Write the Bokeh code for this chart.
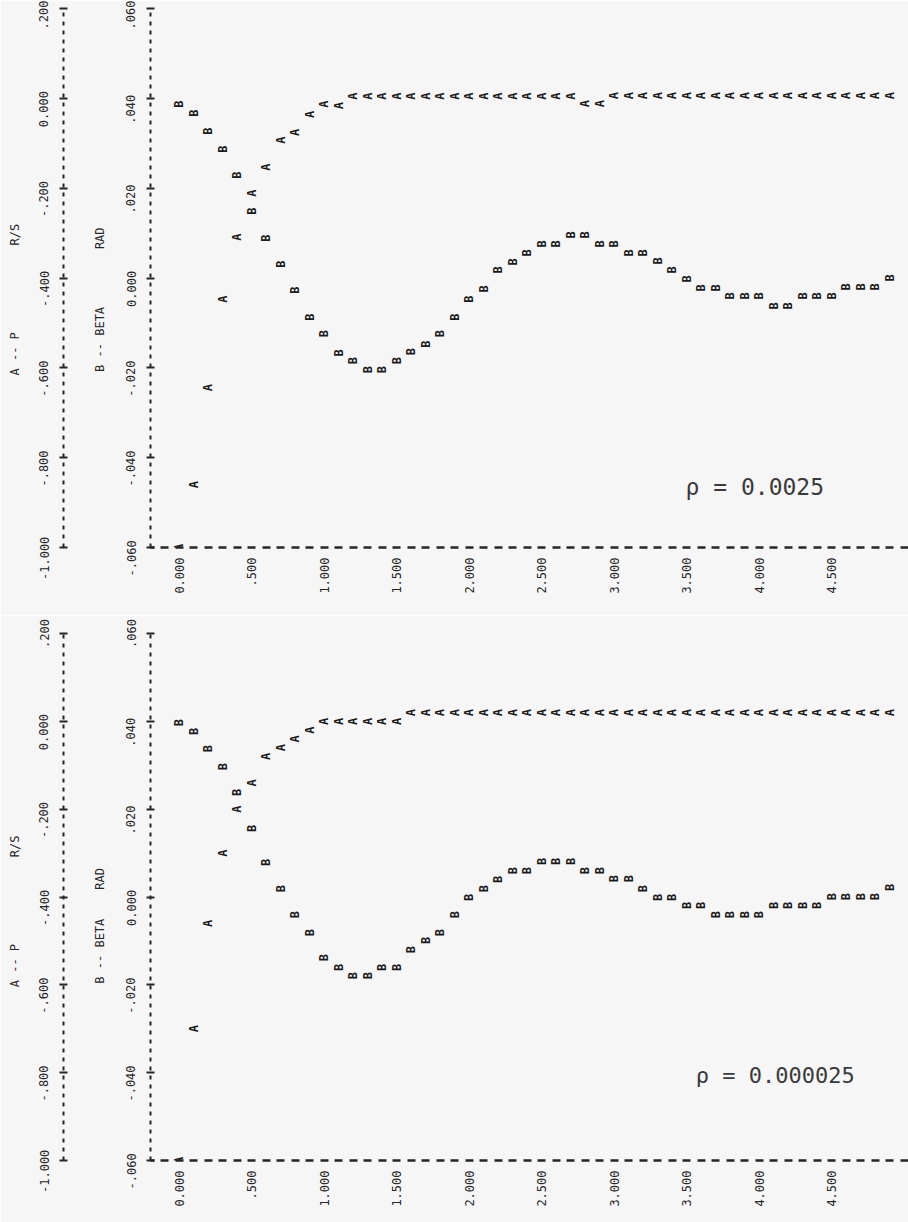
import math
from bokeh.plotting import figure
from bokeh.models import Range1d, LinearAxis, FixedTicker, Label, ColumnDataSource
from bokeh.layouts import column
from bokeh.embed import file_html
from bokeh.resources import INLINE
from bokeh.core.properties import value

# ---------------- data ----------------
TIME = [0.0, 0.1, 0.2, 0.3, 0.4, 0.5, 0.6, 0.7, 0.8, 0.9,
        1.0, 1.1, 1.2, 1.3, 1.4, 1.5, 1.6, 1.7, 1.8, 1.9,
        2.0, 2.1, 2.2, 2.3, 2.4, 2.5, 2.6, 2.7, 2.8, 2.9,
        3.0, 3.1, 3.2, 3.3, 3.4, 3.5, 3.6, 3.7, 3.8, 3.9,
        4.0, 4.1, 4.2, 4.3, 4.4, 4.5, 4.6, 4.7, 4.8, 4.9]

# panel 1 : rho = 0.0025
TOP_P = [-1.0, -0.86, -0.644, -0.447, -0.309, -0.211, -0.153, -0.093, -0.076, -0.036,
         -0.013, -0.016, 0.005, 0.005, 0.005, 0.005, 0.005, 0.005, 0.005, 0.005,
         0.005, 0.005, 0.005, 0.005, 0.005, 0.005, 0.005, 0.005, -0.012, -0.012,
         0.006, 0.006, 0.006, 0.006, 0.006, 0.006, 0.006, 0.006, 0.006, 0.006,
         0.006, 0.006, 0.006, 0.006, 0.006, 0.006, 0.006, 0.006, 0.006, 0.006]
TOP_BETA = [0.0387, 0.0367, 0.0327, 0.0287, 0.0229, 0.0149, 0.0089, 0.0031, -0.0027, -0.0087,
            -0.0124, -0.0167, -0.0184, -0.0204, -0.0204, -0.0184, -0.0164, -0.0147, -0.0124, -0.0087,
            -0.0047, -0.0024, 0.0018, 0.0036, 0.0056, 0.0076, 0.0076, 0.0096, 0.0096, 0.0076,
            0.0076, 0.0056, 0.0056, 0.0038, 0.0018, -0.0002, -0.0022, -0.0022, -0.0040, -0.0040,
            -0.0040, -0.0062, -0.0062, -0.0040, -0.0040, -0.0040, -0.0020, -0.0020, -0.0020, 0.0000]

# panel 2 : rho = 0.000025
BOT_P = [-1.0, -0.70, -0.46, -0.30, -0.20, -0.14, -0.08, -0.06, -0.04, -0.02,
         0.0, 0.0, 0.0, 0.0, 0.0, 0.0, 0.02, 0.02, 0.02, 0.02,
         0.02, 0.02, 0.02, 0.02, 0.02, 0.02, 0.02, 0.02, 0.02, 0.02,
         0.02, 0.02, 0.02, 0.02, 0.02, 0.02, 0.02, 0.02, 0.02, 0.02,
         0.02, 0.02, 0.02, 0.02, 0.02, 0.02, 0.02, 0.02, 0.02, 0.02]
BOT_BETA = [0.0397, 0.0377, 0.0338, 0.0297, 0.0238, 0.0156, 0.0079, 0.0019, -0.0040, -0.0081,
            -0.0138, -0.0160, -0.0179, -0.0179, -0.0160, -0.0160, -0.0120, -0.0099, -0.0081, -0.0040,
            -0.0001, 0.0019, 0.0040, 0.0060, 0.0060, 0.0081, 0.0081, 0.0081, 0.0060, 0.0060,
            0.0042, 0.0042, 0.0019, -0.0001, -0.0001, -0.0019, -0.0019, -0.0040, -0.0040, -0.0040,
            -0.0040, -0.0019, -0.0019, -0.0019, -0.0019, 0.0001, 0.0001, 0.0001, 0.0001, 0.0022]

TIME_TICKS = [0.0, 0.5, 1.0, 1.5, 2.0, 2.5, 3.0, 3.5, 4.0, 4.5]
TIME_LABELS = ["0.000", ".500", "1.000", "1.500", "2.000", "2.500", "3.000", "3.500", "4.000", "4.500"]
P_TICKS = [-1.0, -0.8, -0.6, -0.4, -0.2, 0.0, 0.2]
P_LABELS = ["-1.000", "-.800", "-.600", "-.400", "-.200", "0.000", ".200"]
BETA_TICKS = [-0.06, -0.04, -0.02, 0.0, 0.02, 0.04, 0.06]
BETA_LABELS = ["-.060", "-.040", "-.020", "0.000", ".020", ".040", ".060"]
P_TITLE = ("A -- P", "R/S")
BETA_TITLE = ("B -- BETA", "RAD")
RHO_TEXTS = ["\u03c1 = 0.0025", "\u03c1 = 0.000025"]

# ---------------- styling ----------------
INK = "#262626"
PAPER = "#f6f6f6"
MONO = "DejaVu Sans Mono"
NB = "\u00a0"
ZW = "\u200b"


def shifted(ticks, labels):
    # printer labels sit a little below their tick mark (top one is kept
    # inside the frame by Bokeh anyway)
    out = {}
    for i, (t, l) in enumerate(zip(ticks, labels)):
        if i == len(ticks) - 1:
            out[t] = l
        else:
            out[t] = l + NB * 3 + ZW
    return out


def style_ruler(ax, ticks, labels, label_standoff, title, title_standoff):
    ax.ticker = FixedTicker(ticks=ticks)
    ax.major_label_overrides = shifted(ticks, labels)
    ax.major_label_orientation = "vertical"
    ax.major_label_text_font = MONO
    ax.major_label_text_font_size = "12px"
    ax.major_label_text_color = INK
    ax.major_label_standoff = label_standoff
    ax.axis_line_color = INK
    ax.axis_line_width = 2
    ax.axis_line_dash = "4 5"
    ax.major_tick_in = 4
    ax.major_tick_out = 4
    ax.major_tick_line_width = 2
    ax.major_tick_line_color = INK
    ax.minor_tick_line_color = None
    ax.minor_tick_out = 0
    ax.minor_tick_in = 0
    ax.axis_label = title
    ax.axis_label_standoff = title_standoff
    ax.axis_label_text_font = MONO
    ax.axis_label_text_font_size = "12px"
    ax.axis_label_text_font_style = "normal"
    ax.axis_label_text_color = INK


def make_panel(p_vals, beta_vals, rho_text, height, border_top, border_bottom,
               title_gap_p, title_tail_p, title_gap_b, title_tail_b,
               rho_x, rho_y, rho_size):
    p = figure(width=908, height=height,
               x_range=Range1d(-0.2, 5.0276), y_range=Range1d(-0.06, 0.06),
               output_backend="svg", toolbar_location=None,
               min_border_left=150, min_border_right=0,
               min_border_top=border_top, min_border_bottom=border_bottom,
               background_fill_color=PAPER, border_fill_color=PAPER,
               outline_line_color=None)
    p.title.visible = False
    p.extra_y_ranges = {"a": Range1d(-1.0, 0.2)}
    p.grid.visible = False

    # B -- BETA axis (innermost, default y range)
    axb = p.yaxis[0]
    style_ruler(axb, BETA_TICKS, BETA_LABELS, 8,
                BETA_TITLE[0] + NB * title_gap_b + BETA_TITLE[1] + NB * title_tail_b, 15)

    # blank spacer between the two rulers: one paper-coloured minor tick
    # reserves the room, no labels
    spacer = LinearAxis(y_range_name="a",
                        ticker=FixedTicker(ticks=[], minor_ticks=[-0.4]),
                        axis_line_color=None, major_tick_line_color=None,
                        minor_tick_line_color=PAPER, major_tick_in=0,
                        major_tick_out=0, minor_tick_in=0, minor_tick_out=26,
                        major_label_standoff=0)
    p.add_layout(spacer, "left")

    # A -- P axis (outer)
    axa = LinearAxis(y_range_name="a")
    style_ruler(axa, P_TICKS, P_LABELS, 8,
                P_TITLE[0] + NB * title_gap_p + P_TITLE[1] + NB * title_tail_p, 13)
    p.add_layout(axa, "left")

    # time axis
    axt = p.xaxis[0]
    axt.ticker = FixedTicker(ticks=TIME_TICKS)
    axt.major_label_overrides = dict(zip(TIME_TICKS, TIME_LABELS))
    axt.major_label_orientation = math.pi / 2
    axt.major_label_text_font = MONO
    axt.major_label_text_font_size = "12px"
    axt.major_label_text_color = INK
    axt.major_label_standoff = 10
    axt.major_tick_in = 0
    axt.major_tick_out = 0
    axt.major_tick_line_color = None
    axt.minor_tick_line_color = None
    axt.minor_tick_in = 0
    axt.minor_tick_out = 0
    axt.axis_line_color = INK
    axt.axis_line_width = 2.5
    axt.axis_line_dash = "8 6 8 7"
    axt.axis_line_dash_offset = 4

    src = ColumnDataSource(dict(t=TIME, pv=p_vals, bv=beta_vals))
    p.text(x="t", y="bv", text=value("B"), source=src, angle=math.pi / 2,
           text_align="center", text_baseline="middle",
           text_font=value(MONO), text_font_size="12px", text_font_style="bold",
           text_color="#1a1a1a")
    p.text(x="t", y="pv", text=value("A"), source=src, y_range_name="a",
           angle=math.pi / 2, text_align="center", text_baseline="middle",
           text_font=value(MONO), text_font_size="12px", text_font_style="bold",
           text_color="#1a1a1a")

    p.add_layout(Label(x=rho_x, y=rho_y, y_range_name="a", text=rho_text,
                       text_font=MONO, text_font_size=rho_size,
                       text_color="#3a3a3a", text_baseline="bottom",
                       text_align="left"))
    return p


p1 = make_panel(TOP_P, TOP_BETA, RHO_TEXTS[0], 615, 8, 68,
                12, 6, 8, 6, 3.49, -0.895, "23px")
p2 = make_panel(BOT_P, BOT_BETA, RHO_TEXTS[1], 607, 18, 62,
                12, 4, 4, 8, 3.56, -0.836, "22px")

layout = column(p1, p2, spacing=0)
open("out.html", "w").write(file_html(layout, INLINE))
